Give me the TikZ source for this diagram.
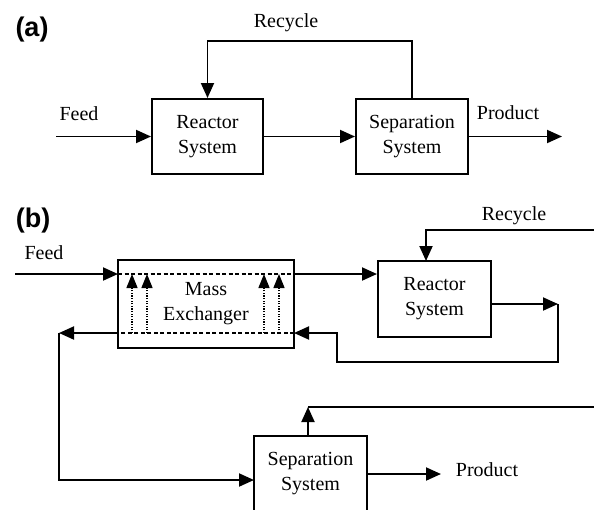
\documentclass[tikz,border=0pt]{standalone}
\usepackage{fontspec}
\setmainfont{Liberation Serif}
\newfontfamily\panelfont{Liberation Sans}
\usetikzlibrary{arrows.meta}
\begin{document}
\begin{tikzpicture}[x=1pt,y=-1pt,
  box/.style={draw, line width=2pt, align=center, inner sep=0pt,
    font=\rmfamily\fontsize{20}{25}\selectfont},
  pipe/.style={line width=1.9pt},
  flow/.style={pipe, -{Triangle[length=15pt,width=13pt]}},
  dashline/.style={line width=1.4pt, dash pattern=on 4pt off 2.5pt},
  dotflow/.style={line width=1.4pt, dash pattern=on 1.3pt off 1.3pt,
    -{Triangle[length=14pt,width=11pt]}},
  txt/.style={font=\rmfamily\fontsize{20}{25}\selectfont, inner sep=0pt},
  panel/.style={font=\panelfont\bfseries\fontsize{27}{27}\selectfont, inner sep=0pt}]
\useasboundingbox (0,0) rectangle (594,509);
\clip (0,0) rectangle (594,509);

% ---------- (a) reactor / separator with recycle ----------
\node[panel] (labA) at (32,30) {(a)};
\node[box, minimum width=111pt, minimum height=75pt] (reacA) at (207.5,136.5) {Reactor\\System};
\node[box, minimum width=112pt, minimum height=75pt] (sepA) at (412,136.5) {Separation\\System};
\coordinate (feedA) at (56,136.5);
\coordinate (prodA) at (562,136.5);
\coordinate (recA) at (310,41);
\draw[flow] (feedA) -- (reacA.west);
\draw[flow] (reacA.east) -- (sepA.west);
\draw[flow] (sepA.east) -- (prodA);
\draw[flow] (sepA.north) |- (recA) -| (reacA.north);
\node[txt] (feedtxtA) at (79,114) {Feed};
\node[txt] (prodtxtA) at (508,113) {Product};
\node[txt] (rectxtA) at (286,23) {Recycle};

% ---------- (b) with mass exchanger ----------
\node[panel] (labB) at (33,221) {(b)};
\node[box, minimum width=176pt, minimum height=88pt] (mex) at (206,304) {Mass\\Exchanger};
\node[box, minimum width=113pt, minimum height=76pt] (reacB) at (434.5,299) {Reactor\\System};
\node[box, minimum width=113pt, minimum height=75pt] (sepB) at (310.5,473.5) {Separation\\System};

\coordinate (feedB) at (15,274);
\coordinate (mexTL) at (118,274);
\coordinate (mexTR) at (294,274);
\coordinate (mexBL) at (118,333);
\coordinate (mexBR) at (294,333);
\coordinate (recB) at (596,230);
\coordinate (recBin) at (426,261);
\coordinate (outR) at (558,304);
\coordinate (loopR) at (337,362);
\coordinate (leftTip) at (59,333);
\coordinate (sepIn) at (254,480);
\coordinate (sepUp) at (308,407);
\coordinate (sepOut) at (596,407);
\coordinate (prodB) at (441,474);

% main stream through the exchanger to the reactor
\draw[flow] (feedB) -- (mexTL);
\draw[dashline] (mexTL) -- (mexTR);
\draw[flow] (mexTR) -- (reacB.west |- mexTR);
% recycle into the reactor
\draw[flow] (recB) -| (recBin);
% reactor effluent back through the exchanger
\draw[flow] (reacB.east |- outR) -- (outR);
\draw[flow] (outR) |- (loopR) |- (mexBR);
\draw[dashline] (mexBR) -- (mexBL);
\draw[flow] (mexBL) -- (leftTip);
\draw[flow] (leftTip) |- (sepIn);
% separator outlets
\draw[flow] (sepUp |- sepB.north) -- (sepUp);
\draw[pipe] (sepUp) -- (sepOut);
\draw[flow] (sepB.east |- prodB) -- (prodB);

% mass transfer inside the exchanger
\foreach \x [count=\i] in {132,147,264,279} {
  \coordinate (d\i lo) at (\x,333);
  \coordinate (d\i hi) at (\x,274);
  \draw[dotflow] (d\i lo) -- (d\i hi);
}

\node[txt] (feedtxtB) at (44,253) {Feed};
\node[txt] (rectxtB) at (514,216) {Recycle};
\node[txt] (prodtxtB) at (487,470) {Product};
\end{tikzpicture}
\end{document}
